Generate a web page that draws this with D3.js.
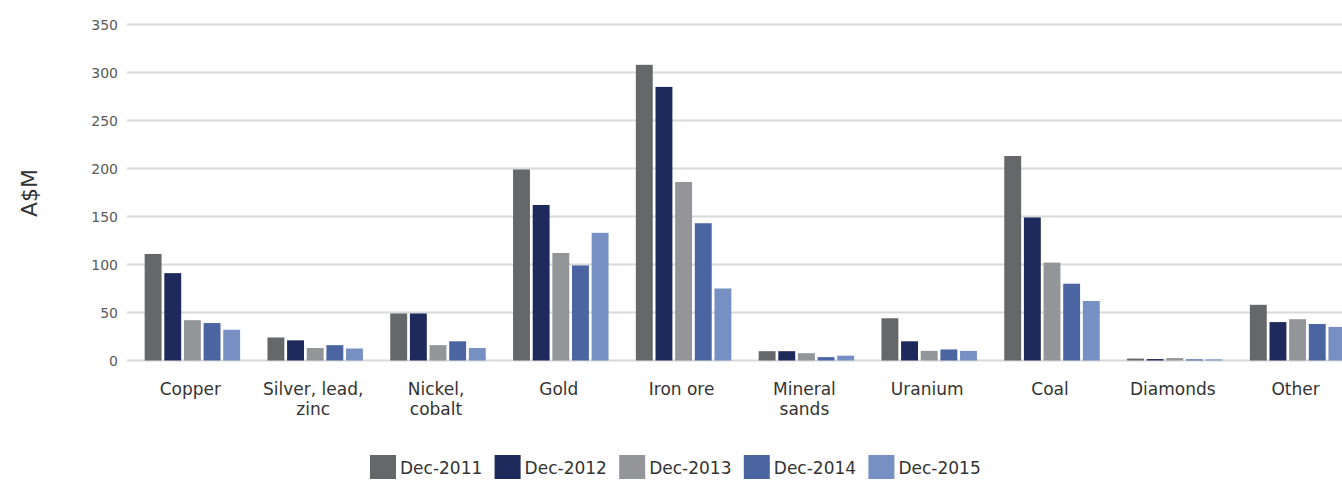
<!DOCTYPE html>
<html>
<head>
<meta charset="utf-8">
<script src="https://cdn.jsdelivr.net/npm/d3@7"></script>
<style>
  html, body { margin: 0; padding: 0; background: #fff; }
  svg { display: block; }
  text { font-family: "DejaVu Sans", sans-serif; }
</style>
</head>
<body>
<svg id="chart" width="1342" height="480"></svg>
<script>
const categories = ["Copper", "Silver, lead,|zinc", "Nickel,|cobalt", "Gold", "Iron ore", "Mineral|sands", "Uranium", "Coal", "Diamonds", "Other"];
const seriesNames = ["Dec-2011", "Dec-2012", "Dec-2013", "Dec-2014", "Dec-2015"];
const dec2011 = [111, 24, 49, 199, 308, 9.7, 44, 213, 2, 58];
const dec2012 = [91, 21, 49, 162, 285, 9.7, 20, 149, 1.5, 40];
const dec2013 = [42, 13, 16, 112, 186, 7.6, 10, 102, 2.5, 43];
const dec2014 = [39, 16, 20, 99, 143, 3.5, 11.5, 80, 1.2, 38];
const dec2015 = [32, 12.5, 13, 133, 75, 5, 10, 62, 1.2, 35];
const yTicks = [0, 50, 100, 150, 200, 250, 300, 350];
const colors = ["#666769", "#1f2a5c", "#939598", "#4a65a2", "#7690c4"];

const seriesValues = [dec2011, dec2012, dec2013, dec2014, dec2015];

const svg = d3.select("#chart");

const x0 = d3.scaleBand().domain(d3.range(categories.length)).range([131, 1359]).paddingInner(0.2).paddingOuter(0.1);
const x1 = d3.scaleBand().domain(d3.range(seriesNames.length)).range([0, x0.bandwidth()]).paddingInner(0.14).paddingOuter(0.07);
const y = d3.scaleLinear().domain([0, 350]).range([360.5, 24.5]);

// gridlines
svg.append("g").selectAll("line").data(yTicks).join("line")
  .attr("x1", 127).attr("x2", 1342)
  .attr("y1", d => y(d)).attr("y2", d => y(d))
  .attr("stroke", "#d9d9d9").attr("stroke-width", 2);

// y axis labels
const yAxis = d3.axisLeft(y).tickValues(yTicks).tickSize(0).tickPadding(0);
const gy = svg.append("g").attr("transform", "translate(118,0)").call(yAxis);
gy.select(".domain").remove();
gy.selectAll("text").attr("font-family", "'DejaVu Sans Condensed', 'DejaVu Sans', sans-serif")
  .attr("font-size", 14).attr("fill", "#595959").attr("dy", "0.35em");

// axis title
svg.append("text")
  .attr("transform", "translate(37,193) rotate(-90)")
  .attr("text-anchor", "middle")
  .attr("font-size", 22).attr("fill", "#333")
  .text("A$M");

// bars
const groups = svg.append("g").selectAll("g").data(categories).join("g")
  .attr("transform", (d, i) => `translate(${x0(i)},0)`);
groups.selectAll("rect")
  .data((d, i) => seriesValues.map((s, j) => ({ j, v: s[i] })))
  .join("rect")
  .attr("x", d => x1(d.j))
  .attr("width", x1.bandwidth())
  .attr("y", d => y(d.v))
  .attr("height", d => y(0) - y(d.v))
  .attr("fill", d => colors[d.j]);

// x labels
const xl = svg.append("g").selectAll("text").data(categories).join("text")
  .attr("x", (d, i) => x0(i) + x0.bandwidth() / 2 - 2)
  .attr("y", 395)
  .attr("text-anchor", "middle")
  .attr("font-size", 17).attr("fill", "#333");
xl.selectAll("tspan").data(d => d.split("|")).join("tspan")
  .attr("x", function() { return d3.select(this.parentNode).attr("x"); })
  .attr("dy", (d, i) => i === 0 ? 0 : 20)
  .text(d => d);

// legend
const lx = d3.scaleBand().domain(d3.range(seriesNames.length)).range([370, 993]);
const leg = svg.append("g").selectAll("g").data(seriesNames).join("g")
  .attr("transform", (d, i) => `translate(${lx(i)},0)`);
leg.append("rect").attr("x", 0).attr("y", 455).attr("width", 26).attr("height", 24)
  .attr("fill", (d, i) => colors[i]);
leg.append("text").attr("x", 30).attr("y", 474).attr("font-size", 17).attr("fill", "#333")
  .text(d => d);
</script>
</body>
</html>
